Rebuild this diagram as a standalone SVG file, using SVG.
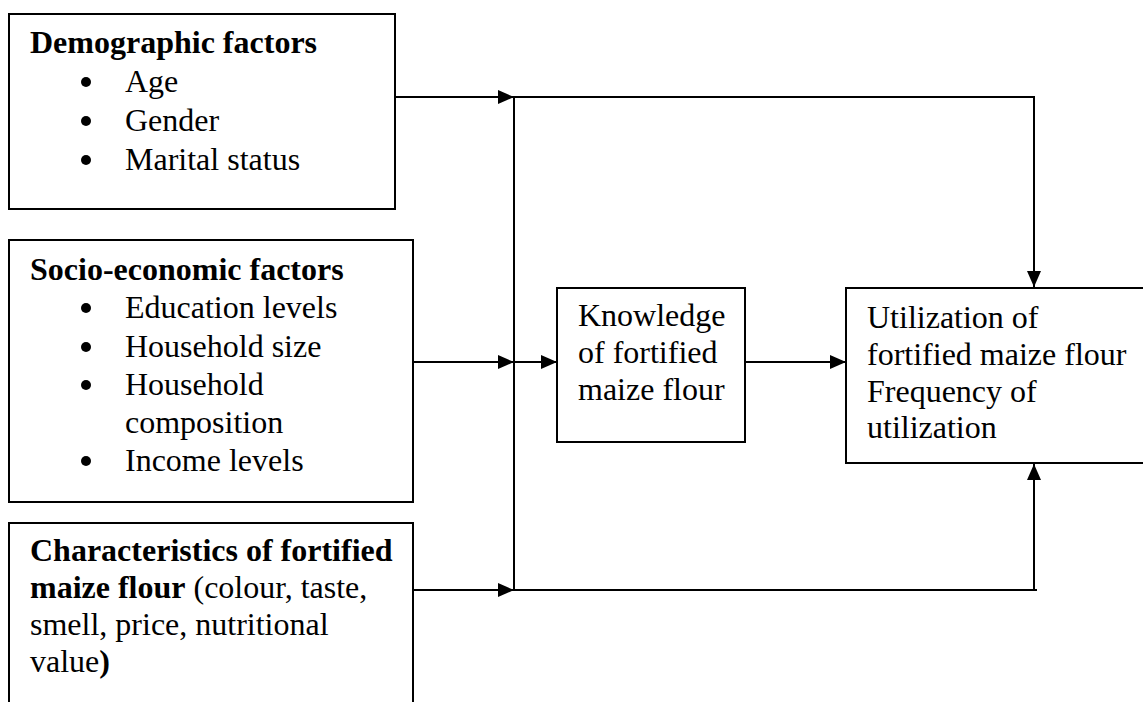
<svg xmlns="http://www.w3.org/2000/svg" width="1143" height="702" viewBox="0 0 1143 702">
<style>
.box{fill:#fff;stroke:#000;stroke-width:2}
text{font-family:"Liberation Serif","Times New Roman",serif;font-size:32px;fill:#000}
.b{font-weight:bold}
.ln{fill:none;stroke:#000;stroke-width:2}
</style>
<defs>
<marker id="ah" viewBox="0 0 16 14" refX="16" refY="7" markerWidth="16" markerHeight="14" markerUnits="userSpaceOnUse" orient="auto">
<path d="M0,0 L16,7 L0,14 Z" fill="#000"/>
</marker>
</defs>
<rect width="1143" height="702" fill="#fff"/>
<g id="demographic">
<rect class="box" x="9" y="14" width="386" height="195"/>
<text class="b" x="30" y="53">Demographic factors</text>
<circle cx="86" cy="82" r="5"/><text x="125" y="92">Age</text>
<circle cx="86" cy="121" r="5"/><text x="125" y="131">Gender</text>
<circle cx="86" cy="160" r="5"/><text x="125" y="170">Marital status</text>
</g>
<g id="socioeconomic">
<rect class="box" x="9" y="240" width="404" height="262"/>
<text class="b" x="30" y="280">Socio-economic factors</text>
<circle cx="86" cy="308" r="5"/><text x="125" y="318">Education levels</text>
<circle cx="86" cy="347" r="5"/><text x="125" y="357">Household size</text>
<circle cx="86" cy="385" r="5"/><text x="125" y="395">Household</text>
<text x="125" y="433">composition</text>
<circle cx="86" cy="461" r="5"/><text x="125" y="471">Income levels</text>
</g>
<g id="characteristics">
<rect class="box" x="9" y="523" width="404" height="200"/>
<text class="b" x="30" y="561">Characteristics of fortified</text>
<text x="30" y="598"><tspan class="b">maize flour</tspan> (colour, taste,</text>
<text x="30" y="635">smell, price, nutritional</text>
<text x="30" y="672">value<tspan class="b">)</tspan></text>
</g>
<g id="knowledge">
<rect class="box" x="557" y="288" width="188" height="154"/>
<text x="578" y="326">Knowledge</text>
<text x="578" y="363">of fortified</text>
<text x="578" y="400">maize flour</text>
</g>
<g id="utilization">
<rect class="box" x="846" y="288" width="310" height="175"/>
<text x="867" y="328">Utilization of</text>
<text x="867" y="365">fortified maize flour</text>
<text x="867" y="402">Frequency of</text>
<text x="867" y="438">utilization</text>
</g>
<g id="connectors">
<line class="ln" x1="395" y1="97" x2="514" y2="97" marker-end="url(#ah)"/>
<polyline class="ln" points="514,97 1034,97 1034,287" marker-end="url(#ah)"/>
<line class="ln" x1="514" y1="97" x2="514" y2="590"/>
<line class="ln" x1="413" y1="362" x2="514" y2="362" marker-end="url(#ah)"/>
<line class="ln" x1="514" y1="362" x2="557" y2="362" marker-end="url(#ah)"/>
<line class="ln" x1="745" y1="362" x2="846" y2="362" marker-end="url(#ah)"/>
<line class="ln" x1="413" y1="590" x2="514" y2="590" marker-end="url(#ah)"/>
<polyline class="ln" points="514,590 1037,590"/>
<line class="ln" x1="1034" y1="590" x2="1034" y2="464" marker-end="url(#ah)"/>
</g>
</svg>
